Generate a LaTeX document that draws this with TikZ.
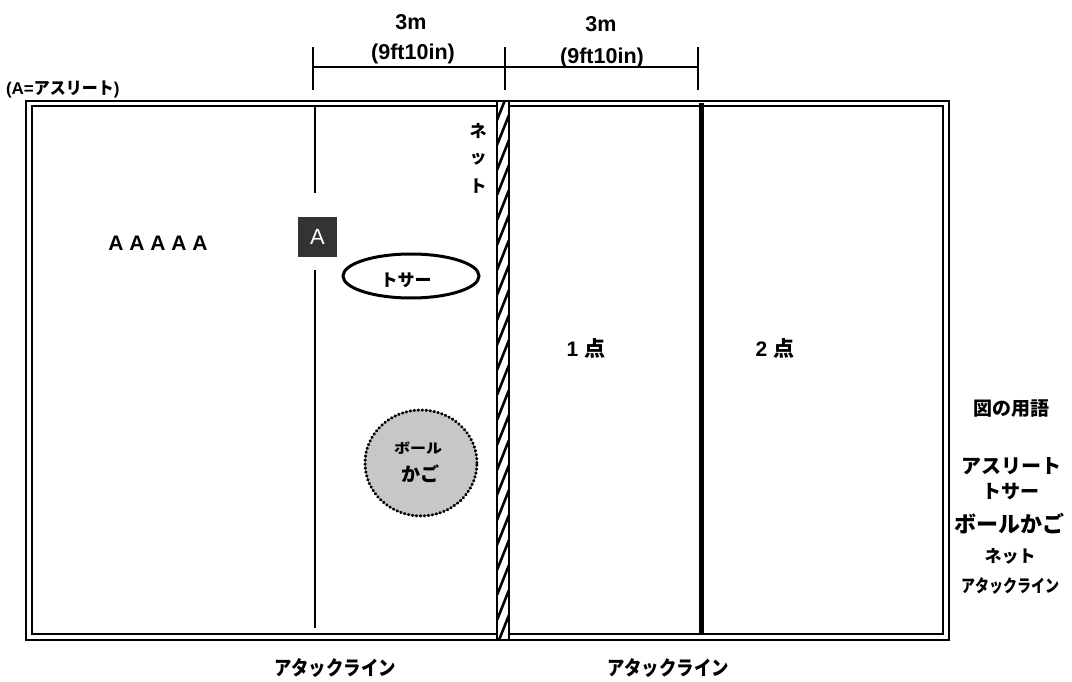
\documentclass[tikz,border=0pt]{standalone}
\usepackage{fontspec}
\setmainfont{Liberation Sans}
\newfontfamily\jp{Noto Sans CJK JP}
\usetikzlibrary{shapes.geometric}
\newcommand\fsz[1]{\fontsize{#1}{#1}\selectfont}
\begin{document}
\begin{tikzpicture}[x=1pt,y=-1pt,
  courtline/.style={line width=2pt},
  thinline/.style={line width=1.3pt},
  dimline/.style={line width=1.8pt},
  txt/.style={inner sep=0pt, outer sep=0pt},
  jpb/.style={txt, font=\jp\bfseries\fsz{#1}},
  latb/.style={txt, font=\bfseries\fsz{#1}}
]
\useasboundingbox (0,0) rectangle (1072,682);

% court double border
\draw[courtline] (26,101) rectangle (949,640);
\draw[courtline] (32,106) rectangle (943,634);

% thick attack line on the right half
\draw[line width=4.5pt] (701.5,103) -- (701.5,634);

% left attack line
\coordinate (la1) at (315,106);
\coordinate (la2) at (315,193);
\coordinate (la3) at (315,270);
\coordinate (la4) at (315,628);
\draw[thinline] (la1) -- (la2);
\draw[thinline] (la3) -- (la4);

% net
\fill[white] (497,101) rectangle (509,640);
\begin{scope}
  \clip (497,101) rectangle (509,640);
  \foreach \y in {95,120,...,690} \draw[line width=2.6pt] (497,\y) -- (509,\y-30);
\end{scope}
\draw[line width=1.3pt] (497,101) rectangle (509,640);

% dimension lines
\coordinate (d1t) at (313,47); \coordinate (d1b) at (313,90);
\coordinate (d2t) at (505,47); \coordinate (d2b) at (505,90);
\coordinate (d3t) at (698,47); \coordinate (d3b) at (698,90);
\coordinate (d1) at (313,67); \coordinate (d3) at (698,67);
\draw[dimline] (d1t) -- (d1b);
\draw[dimline] (d2t) -- (d2b);
\draw[dimline] (d3t) -- (d3b);
\draw[dimline] (d1) -- (d3);
\node[latb=21.5] (m1) at (411,22) {3m};
\node[latb=21.5] (f1) at (413,54) {(9ft10in)};
\node[latb=21.5] (m2) at (601,24) {3m};
\node[latb=21.5] (f2) at (602,58) {(9ft10in)};

% top-left note
\node[txt, anchor=west] (note) at (6,89) {\bfseries\fsz{17}(A=\jp\fsz{17}\scalebox{0.94}[1]{アスリート}\rmfamily\bfseries)};

% athletes
\node[txt, font=\bfseries\fsz{21}] (athletes) at (158,243) {A A A A A};
\node[fill=black!80, minimum width=39pt, minimum height=40pt, inner sep=0pt, text=white, font=\fsz{22}] (abox) at (317.5,237) {A};

% tosser
\node[draw, line width=3pt, ellipse, minimum width=136pt, minimum height=44pt, inner sep=0pt] (tosser) at (411,276) {};
\node[jpb=17] (tossertxt) at (406,280) {トサー};

% ball basket
\node[draw, ellipse, fill=black!22, line width=3pt, dash pattern=on 0.6pt off 3.4pt, line cap=round, minimum width=112pt, minimum height=106pt, inner sep=0pt] (basket) at (421,463) {};
\node[jpb=16] (bk1) at (418,448) {\scalebox{1}[0.85]{ボール}};
\node[jpb=19] (bk2) at (420,474) {かご};

% net label
\node[jpb=17] (n1) at (478,131) {ネ};
\node[jpb=17] (n2) at (478,159) {ッ};
\node[jpb=17] (n3) at (478,186) {ト};

% points
\node[txt, font=\bfseries\fsz{21}] (p1) at (586,348) {1 \jp\bfseries 点};
\node[txt, font=\bfseries\fsz{21}] (p2) at (775,348) {2 \jp\bfseries 点};

% bottom labels
\node[jpb=20] (al1) at (335,668) {\scalebox{0.87}[1]{アタックライン}};
\node[jpb=20] (al2) at (668,668) {\scalebox{0.87}[1]{アタックライン}};

% legend
\node[jpb=19] (lg0) at (1011,409) {図の用語};
\node[jpb=20] (lg1) at (1011,466) {アスリート};
\node[jpb=19] (lg2) at (1011,492) {トサー};
\node[jpb=22] (lg3) at (1009,524) {ボールかご};
\node[jpb=17] (lg4) at (1010,556) {ネット};
\node[jpb=17.5] (lg5) at (1010,586) {\scalebox{0.8}[1]{アタックライン}};
\end{tikzpicture}
\end{document}
